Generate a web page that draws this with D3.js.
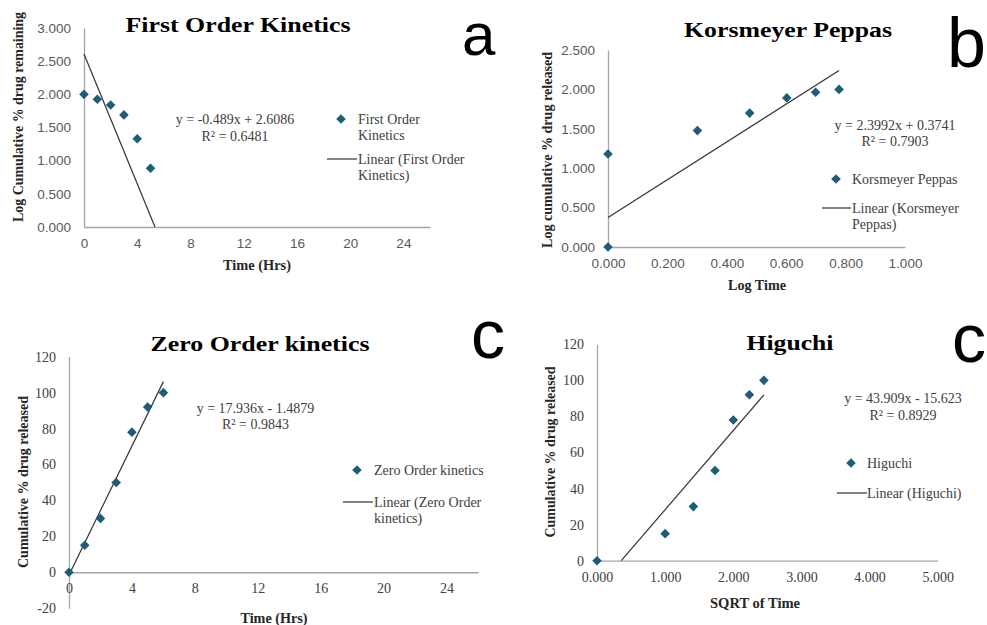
<!DOCTYPE html>
<html>
<head>
<meta charset="utf-8">
<script src="https://cdn.jsdelivr.net/npm/d3@7"></script>
<style>
  html, body { margin: 0; padding: 0; background: #fff; }
  svg { display: block; }
</style>
</head>
<body>
<svg id="chart" width="987" height="625"></svg>
<script>
// ---- Release data ----
const timeHrs = [0, 1, 2, 3, 4, 5, 6];
const releasePct = [0, 15, 30, 50, 78, 92, 100];

// First order: log of % drug remaining
const foTime = [0, 1, 2, 3, 4, 5];
const foLogRemaining = [2.000, 1.926, 1.840, 1.690, 1.330, 0.885];

// Korsmeyer-Peppas: log time vs log % released
const kpLogTime = [0.000, 0.000, 0.301, 0.477, 0.602, 0.699, 0.778];
const kpLogRelease = [0.000, 1.180, 1.477, 1.699, 1.892, 1.964, 2.000];

// Higuchi: square root of time
const hgSqrtTime = [0.000, 1.000, 1.414, 1.732, 2.000, 2.236, 2.449];

// Linear fits [slope, intercept, R²]
const foFit = [-0.489, 2.6086, 0.6481];
const kpFit = [2.3992, 0.3741, 0.7903];
const zoFit = [17.936, -1.4879, 0.9843];
const hgFit = [43.909, -15.623, 0.8929];

// Axis tick values
const hourTicks = [0, 4, 8, 12, 16, 20, 24];
const logTicks3 = [0, 0.5, 1, 1.5, 2, 2.5, 3];
const logTicks25 = [0, 0.5, 1, 1.5, 2, 2.5];
const logTimeTicks = [0, 0.2, 0.4, 0.6, 0.8, 1.0];
const pctTicksNeg = [-20, 0, 20, 40, 60, 80, 100, 120];
const pctTicks = [0, 20, 40, 60, 80, 100, 120];
const sqrtTicks = [0, 1, 2, 3, 4, 5];

const SERIF = '"Liberation Serif", "Times New Roman", Times, serif';
const SANS = '"Liberation Sans", Arial, Helvetica, sans-serif';
const MARK = '#1f5c78';
const AXIS = '#a6a6a6';

const fmt3 = d3.format('.3f');
const fmtInt = d => String(d);

const svg = d3.select('#chart');

const panels = [
  {
    x: foTime, y: foLogRemaining, fit: foFit, fitX: d3.extent(timeHrs),
    box: { left: 84, right: 430, top: 28, bottom: 227 },
    xDomain: [0, 26], yDomain: [0, 3], xTicks: hourTicks, yTicks: logTicks3,
    xFmt: fmtInt, yFmt: fmt3, tickFont: SANS, tickSize: 13.5, tickColor: '#595959',
    title: 'First Order Kinetics', titleAt: [238, 32], titleLen: 225,
    yTitle: 'Log Cumulative % drug remaining', yTitleAt: [18, 117], yTitleLen: 210,
    xTitle: 'Time (Hrs)', xTitleAt: [257, 265], xTitleLen: 68,
    eqAt: [235, 119, 136],
    legend: { markX: 341, markY: 119, textX: 358, lineX: [327, 357], lineY: 159,
      series: ['First Order', 'Kinetics'], linear: ['Linear (First Order', 'Kinetics)'] },
    letter: 'a', letterAt: [462, 55], letterSize: 60, letterAnchor: 'start'
  },
  {
    x: kpLogTime, y: kpLogRelease, fit: kpFit, fitX: d3.extent(kpLogTime),
    box: { left: 608, right: 905, top: 50, bottom: 247 },
    xDomain: [0, 1], yDomain: [0, 2.5], xTicks: logTimeTicks, yTicks: logTicks25,
    xFmt: fmt3, yFmt: fmt3, tickFont: SANS, tickSize: 13.5, tickColor: '#595959',
    title: 'Korsmeyer Peppas', titleAt: [788, 37], titleLen: 208,
    yTitle: 'Log cumulative % drug released', yTitleAt: [547, 150], yTitleLen: 196,
    xTitle: 'Log Time', xTitleAt: [757, 285], xTitleLen: 58,
    eqAt: [895, 125, 141],
    legend: { markX: 836, markY: 179, textX: 852, lineX: [822, 851], lineY: 208,
      series: ['Korsmeyer Peppas'], linear: ['Linear (Korsmeyer', 'Peppas)'] },
    letter: 'b', letterAt: [986, 67], letterSize: 70, letterAnchor: 'end'
  },
  {
    x: timeHrs, y: releasePct, fit: zoFit, fitX: d3.extent(timeHrs),
    box: { left: 69, right: 478, top: 356.7, bottom: 608.2 },
    xDomain: [0, 26], yDomain: [-20, 120], xTicks: hourTicks, yTicks: pctTicksNeg,
    xFmt: fmtInt, yFmt: fmtInt, tickFont: SERIF, tickSize: 14, tickColor: '#404040',
    title: 'Zero Order kinetics', titleAt: [260, 351], titleLen: 219,
    yTitle: 'Cumulative % drug released', yTitleAt: [23, 482], yTitleLen: 172,
    xTitle: 'Time (Hrs)', xTitleAt: [274, 618], xTitleLen: 67,
    eqAt: [255.5, 408, 424],
    legend: { markX: 357, markY: 470, textX: 374, lineX: [343, 373], lineY: 502,
      series: ['Zero Order kinetics'], linear: ['Linear (Zero Order', 'kinetics)'] },
    letter: 'c', letterAt: [471, 358], letterSize: 68, letterAnchor: 'start'
  },
  {
    x: hgSqrtTime, y: releasePct, fit: hgFit, fitX: d3.extent(hgSqrtTime),
    box: { left: 597, right: 937.7, top: 344.3, bottom: 560.7 },
    xDomain: [0, 5], yDomain: [0, 120], xTicks: sqrtTicks, yTicks: pctTicks,
    xFmt: fmt3, yFmt: fmtInt, tickFont: SERIF, tickSize: 14, tickColor: '#404040',
    title: 'Higuchi', titleAt: [790, 350], titleLen: 87,
    yTitle: 'Cumulative % drug released', yTitleAt: [550, 452], yTitleLen: 171,
    xTitle: 'SQRT of Time', xTitleAt: [755, 603], xTitleLen: 90,
    eqAt: [903, 398, 415],
    legend: { markX: 851, markY: 463, textX: 867, lineX: [837, 867], lineY: 493,
      series: ['Higuchi'], linear: ['Linear (Higuchi)'] },
    letter: 'c', letterAt: [986, 362], letterSize: 68, letterAnchor: 'end'
  }
];

const diamond = d3.symbol().type(d3.symbolSquare).size(46);

function equationText(fit) {
  const [m, b] = fit;
  return `y = ${m}x ${b < 0 ? '-' : '+'} ${Math.abs(b)}`;
}

// Trendline endpoints over the fitted x range, kept inside the value axis range
function trendSegment(fit, xr, yDomain) {
  const [m, b] = fit;
  let [x0, x1] = xr;
  const [yMin, yMax] = yDomain;
  if (m !== 0) {
    const xa = (yMin - b) / m, xb = (yMax - b) / m;
    const lo = Math.min(xa, xb), hi = Math.max(xa, xb);
    x0 = Math.max(x0, lo);
    x1 = Math.min(x1, hi);
  }
  return [[x0, m * x0 + b], [x1, m * x1 + b]];
}

panels.forEach(p => {
  const g = svg.append('g');
  const xs = d3.scaleLinear().domain(p.xDomain).range([p.box.left, p.box.right]);
  const ys = d3.scaleLinear().domain(p.yDomain).range([p.box.bottom, p.box.top]);
  const y0 = ys(0);

  // Value axis (vertical) line and labels
  const yAx = g.append('g').attr('transform', `translate(${p.box.left},0)`)
    .call(d3.axisLeft(ys).tickValues(p.yTicks).tickFormat(p.yFmt).tickSize(0).tickPadding(13));
  yAx.select('.domain').attr('stroke', AXIS).attr('stroke-width', 1.3);
  yAx.selectAll('text').attr('font-family', p.tickFont).attr('font-size', p.tickSize).attr('fill', p.tickColor);

  // Category axis crossing at zero
  const xAx = g.append('g').attr('transform', `translate(0,${y0})`)
    .call(d3.axisBottom(xs).tickValues(p.xTicks).tickFormat(p.xFmt).tickSize(0).tickPadding(11));
  xAx.select('.domain').attr('stroke', AXIS).attr('stroke-width', 1.3);
  xAx.selectAll('text').attr('font-family', p.tickFont).attr('font-size', p.tickSize).attr('fill', p.tickColor);

  // Trendline
  const seg = trendSegment(p.fit, p.fitX, p.yDomain);
  g.append('path')
    .attr('d', d3.line().x(d => xs(d[0])).y(d => ys(d[1]))(seg))
    .attr('fill', 'none').attr('stroke', '#333').attr('stroke-width', 1.2);

  // Data points
  g.selectAll('path.pt').data(d3.zip(p.x, p.y)).join('path')
    .attr('class', 'pt')
    .attr('d', diamond)
    .attr('transform', d => `translate(${xs(d[0])},${ys(d[1])}) rotate(45)`)
    .attr('fill', MARK);

  // Title
  g.append('text').attr('x', p.titleAt[0]).attr('y', p.titleAt[1])
    .attr('text-anchor', 'middle').attr('font-family', SERIF).attr('font-weight', 'bold')
    .attr('font-size', 22).attr('fill', '#000')
    .attr('textLength', p.titleLen).attr('lengthAdjust', 'spacingAndGlyphs')
    .text(p.title);

  // Axis titles
  g.append('text')
    .attr('transform', `translate(${p.yTitleAt[0]},${p.yTitleAt[1]}) rotate(-90)`)
    .attr('text-anchor', 'middle').attr('dominant-baseline', 'central')
    .attr('font-family', SERIF).attr('font-weight', 'bold').attr('font-size', 14).attr('fill', '#262626')
    .attr('textLength', p.yTitleLen).attr('lengthAdjust', 'spacingAndGlyphs')
    .text(p.yTitle);
  g.append('text').attr('x', p.xTitleAt[0]).attr('y', p.xTitleAt[1])
    .attr('text-anchor', 'middle').attr('dominant-baseline', 'central')
    .attr('font-family', SERIF).attr('font-weight', 'bold').attr('font-size', 14).attr('fill', '#262626')
    .attr('textLength', p.xTitleLen).attr('lengthAdjust', 'spacingAndGlyphs')
    .text(p.xTitle);

  // Trendline equation and R²
  const eq = g.append('g').attr('font-family', SERIF).attr('font-size', 14).attr('fill', '#404040')
    .attr('text-anchor', 'middle');
  eq.append('text').attr('x', p.eqAt[0]).attr('y', p.eqAt[1]).attr('dominant-baseline', 'central')
    .text(equationText(p.fit));
  eq.append('text').attr('x', p.eqAt[0]).attr('y', p.eqAt[2]).attr('dominant-baseline', 'central')
    .text(`R² = ${p.fit[2]}`);

  // Legend
  const L = p.legend;
  const lg = g.append('g').attr('font-family', SERIF).attr('font-size', 14).attr('fill', '#404040');
  lg.append('path').attr('d', diamond)
    .attr('transform', `translate(${L.markX},${L.markY}) rotate(45)`).attr('fill', MARK);
  L.series.forEach((t, i) => lg.append('text').attr('x', L.textX).attr('y', L.markY + i * 16)
    .attr('dominant-baseline', 'central').text(t));
  lg.append('line').attr('x1', L.lineX[0]).attr('x2', L.lineX[1])
    .attr('y1', L.lineY).attr('y2', L.lineY).attr('stroke', '#333').attr('stroke-width', 1.2);
  L.linear.forEach((t, i) => lg.append('text').attr('x', L.textX).attr('y', L.lineY + i * 16)
    .attr('dominant-baseline', 'central').text(t));

  // Panel letter
  g.append('text').attr('x', p.letterAt[0]).attr('y', p.letterAt[1])
    .attr('text-anchor', p.letterAnchor)
    .attr('font-family', SANS).attr('font-size', p.letterSize).attr('fill', '#000')
    .text(p.letter);
});
</script>
</body>
</html>
